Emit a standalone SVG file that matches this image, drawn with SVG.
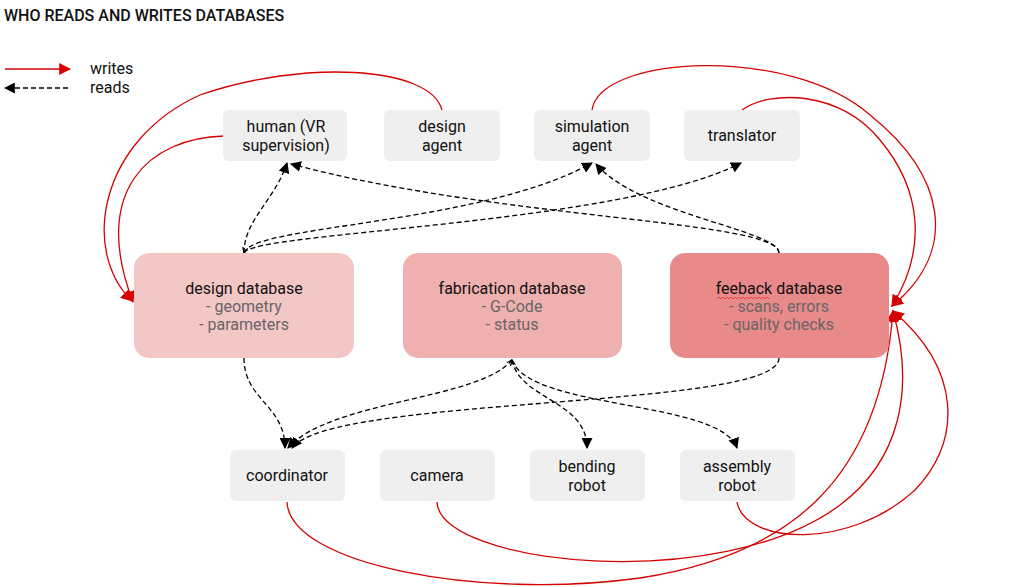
<svg xmlns="http://www.w3.org/2000/svg" width="1024" height="587" viewBox="0 0 1024 587">
<defs>
<style>
.lbl{font-family:Roboto,"Liberation Sans",sans-serif;font-size:16px;fill:#111;text-anchor:middle}
.sub{font-family:Roboto,"Liberation Sans",sans-serif;font-size:16px;fill:#666;text-anchor:middle}
.leg{font-family:Roboto,"Liberation Sans",sans-serif;font-size:16px;fill:#111}
.agent{fill:#efefef}
.rd{fill:none;stroke:#000;stroke-width:1.3;stroke-dasharray:5,3}
.wr{fill:none;stroke:#d40000;stroke-width:1.3}
</style>
<marker id="ab" viewBox="0 0 10 10" refX="9" refY="5" markerWidth="11" markerHeight="11" markerUnits="userSpaceOnUse" orient="auto"><path d="M0,0L10,5L0,10z" fill="#000"/></marker>
<marker id="as" viewBox="0 0 10 10" refX="9" refY="5" markerWidth="6" markerHeight="6" markerUnits="userSpaceOnUse" orient="auto-start-reverse"><path d="M0,1L10,5L0,9" fill="none" stroke="#000" stroke-width="1.5"/></marker>
<marker id="ar" viewBox="0 0 10 10" refX="9" refY="5" markerWidth="12" markerHeight="12" markerUnits="userSpaceOnUse" orient="auto"><path d="M0,0L10,5L0,10z" fill="#d40000"/></marker>
</defs>
<rect width="1024" height="587" fill="#fff"/>
<text x="4" y="21" style="font-family:Roboto,'Liberation Sans',sans-serif;font-size:16px;font-weight:500;fill:#111">WHO READS AND WRITES DATABASES</text>
<g id="legend">
<line x1="5" y1="69" x2="70" y2="69" class="wr" marker-end="url(#ar)"/>
<line x1="68" y1="88" x2="5" y2="88" class="rd" marker-end="url(#ab)"/>
<text class="leg" x="90" y="74">writes</text>
<text class="leg" x="90" y="93">reads</text>
</g>
<g id="connectors">
<path class="rd" d="M244,253 C244,220 275,200 287,163" marker-end="url(#ab)"/>
<path class="rd" d="M244,253 C250,225 480,225 592,163" marker-start="url(#as)" marker-end="url(#ab)"/>
<path class="rd" d="M244,253 C250,232 620,225 741,163" marker-start="url(#as)" marker-end="url(#ab)"/>
<path class="rd" d="M779,253 C779,220 500,220 291,164" marker-end="url(#ab)"/>
<path class="rd" d="M779,253 C779,230 640,215 596,164" marker-end="url(#ab)"/>
<path class="rd" d="M244,358 C244,400 285,405 285,448" marker-end="url(#ab)"/>
<path class="rd" d="M512,360 C480,400 330,400 288,448" marker-start="url(#as)" marker-end="url(#ab)"/>
<path class="rd" d="M779,358 C779,410 330,395 292,448" marker-end="url(#ab)"/>
<path class="rd" d="M512,360 C520,400 587,400 587,448" marker-start="url(#as)" marker-end="url(#ab)"/>
<path class="rd" d="M512,360 C530,410 720,400 737,448" marker-end="url(#ab)"/>
<path class="wr" d="M224,136 C150,138 90,190 133,302" marker-end="url(#ar)"/>
<path class="wr" d="M442,110 C430,65 300,60 200,95 C100,140 80,250 132,301" marker-end="url(#ar)"/>
<path class="wr" d="M592,110 C600,55 790,45 870,115 C945,175 960,250 892,306" marker-end="url(#ar)"/>
<path class="wr" d="M742,110 C770,90 840,90 880,140 C922,190 927,250 892,306" marker-end="url(#ar)"/>
<path class="wr" d="M287,502 C290,565 480,600 640,578 C790,555 880,480 893,311" marker-end="url(#ar)"/>
<path class="wr" d="M437,502 C440,565 720,595 840,505 C900,460 915,390 893,311" marker-end="url(#ar)"/>
<path class="wr" d="M737,502 C745,545 850,550 915,490 C962,440 962,370 893,311" marker-end="url(#ar)"/>
</g>
<g id="human"><rect class="agent" x="223" y="110" width="124" height="51" rx="6"/><text class="lbl" x="286" y="132">human (VR</text><text class="lbl" x="286" y="151">supervision)</text></g>
<g id="design-agent"><rect class="agent" x="384" y="110" width="116" height="51" rx="6"/><text class="lbl" x="442" y="132">design</text><text class="lbl" x="442" y="151">agent</text></g>
<g id="simulation-agent"><rect class="agent" x="534" y="110" width="116" height="51" rx="6"/><text class="lbl" x="592" y="132">simulation</text><text class="lbl" x="592" y="151">agent</text></g>
<g id="translator"><rect class="agent" x="684" y="110" width="116" height="51" rx="6"/><text class="lbl" x="742" y="141">translator</text></g>
<g id="design-db"><rect x="134" y="253" width="220" height="105" rx="15" fill="#f4c7c7"/><text class="lbl" x="244" y="294">design database</text><text class="sub" x="244" y="312">- geometry</text><text class="sub" x="244" y="330">- parameters</text></g>
<g id="fabrication-db"><rect x="403" y="253" width="219" height="105" rx="15" fill="#efb0b0"/><text class="lbl" x="512" y="294">fabrication database</text><text class="sub" x="512" y="312">- G-Code</text><text class="sub" x="512" y="330">- status</text></g>
<g id="feedback-db"><rect x="670" y="253" width="219" height="105" rx="15" fill="#e88a8a"/><text class="lbl" x="779" y="294">feeback database</text><path d="M717,299 l2,-2 l2,2 l2,-2 l2,2 l2,-2 l2,2 l2,-2 l2,2 l2,-2 l2,2 l2,-2 l2,2 l2,-2 l2,2 l2,-2 l2,2 l2,-2 l2,2 l2,-2 l2,2 l2,-2 l2,2 l2,-2 l2,2 l2,-2 l2,2" fill="none" stroke="#e03030" stroke-width="0.8"/><text class="sub" x="779" y="312">- scans, errors</text><text class="sub" x="779" y="330">- quality checks</text></g>
<g id="coordinator"><rect class="agent" x="230" y="450" width="115" height="51" rx="6"/><text class="lbl" x="287" y="481">coordinator</text></g>
<g id="camera"><rect class="agent" x="380" y="450" width="115" height="51" rx="6"/><text class="lbl" x="437" y="481">camera</text></g>
<g id="bending-robot"><rect class="agent" x="530" y="450" width="115" height="51" rx="6"/><text class="lbl" x="587" y="472">bending</text><text class="lbl" x="587" y="491">robot</text></g>
<g id="assembly-robot"><rect class="agent" x="680" y="450" width="115" height="51" rx="6"/><text class="lbl" x="737" y="472">assembly</text><text class="lbl" x="737" y="491">robot</text></g>
</svg>
